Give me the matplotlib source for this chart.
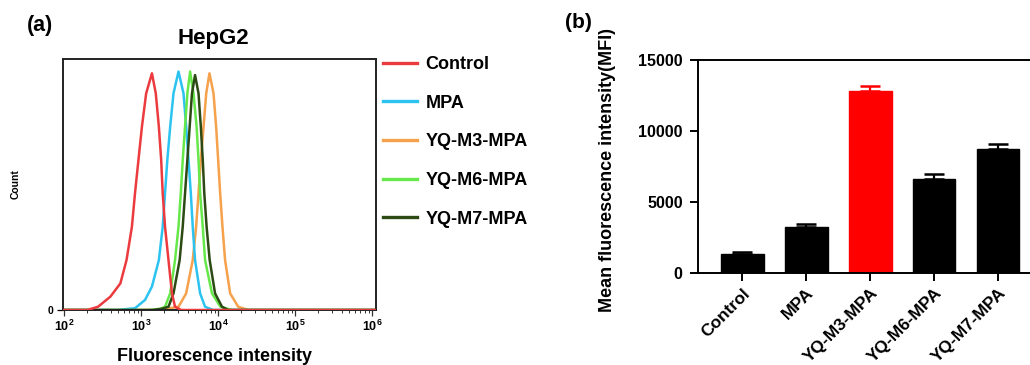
import numpy as np
import matplotlib
matplotlib.use("Agg")
import matplotlib.pyplot as plt
import matplotlib.transforms as mtransforms
from matplotlib.ticker import LogLocator, NullFormatter, FixedLocator

plt.rcParams['font.family'] = ['Liberation Sans', 'DejaVu Sans']
plt.rcParams['font.weight'] = 'bold'

# ---------------- data: flow cytometry histograms (log10 intensity, count %) -------------
ctrl_log = [2.00, 2.30, 2.44, 2.60, 2.73, 2.81, 2.88, 2.92, 2.965, 3.01, 3.065, 3.14,
            3.19, 3.23, 3.26, 3.28, 3.31, 3.355, 3.40, 3.44, 3.52, 6.10]
ctrl_cnt = [0, 0, 1.3, 5.3, 10.6, 19.9, 33.2, 46.5, 59.8, 73, 86.3, 94.3,
            86.3, 73, 59.8, 46.5, 33.2, 19.9, 6.6, 1.3, 0, 0]

mpa_log = [2.00, 2.70, 2.79, 2.92, 3.05, 3.14, 3.23, 3.28, 3.31, 3.34, 3.377, 3.42, 3.485,
           3.55, 3.585, 3.615, 3.645, 3.67, 3.70, 3.766, 3.83, 3.935, 6.10]
mpa_cnt = [0, 0, 0.3, 0.7, 4, 9.3, 19.9, 33.2, 46.5, 59.8, 73, 86.3, 95,
           86.3, 73, 59.8, 46.5, 33.2, 19.9, 6.6, 1.3, 0, 0]

m3_log = [2.00, 3.20, 3.334, 3.485, 3.584, 3.67, 3.714, 3.745, 3.775, 3.81, 3.845, 3.887,
          3.94, 3.974, 4.00, 4.026, 4.056, 4.09, 4.156, 4.26, 4.39, 6.10]
m3_cnt = [0, 0, 0.5, 1.3, 6.6, 19.9, 33.2, 46.5, 59.8, 73, 86.3, 94.3,
          86.3, 73, 59.8, 46.5, 33.2, 19.9, 6.6, 1.3, 0, 0]

m6_log = [2.00, 3.10, 3.25, 3.31, 3.377, 3.44, 3.485, 3.515, 3.54, 3.57, 3.60, 3.636,
          3.68, 3.72, 3.745, 3.766, 3.80, 3.83, 3.92, 4.03, 4.18, 6.10]
m6_cnt = [0, 0, 0.5, 1.3, 6.6, 19.9, 33.2, 46.5, 59.8, 73, 86.3, 95,
          86.3, 73, 59.8, 46.5, 33.2, 19.9, 6.6, 1.3, 0, 0]

m7_log = [2.00, 3.15, 3.27, 3.355, 3.42, 3.50, 3.54, 3.57, 3.60, 3.63, 3.66, 3.70,
          3.745, 3.775, 3.80, 3.82, 3.85, 3.89, 3.96, 4.05, 4.13, 6.10]
m7_cnt = [0, 0, 0.5, 1.3, 6.6, 19.9, 33.2, 46.5, 59.8, 73, 86.3, 93.6,
          86.3, 73, 59.8, 46.5, 33.2, 19.9, 6.6, 1.3, 0, 0]

hist_labels = ['Control', 'MPA', 'YQ-M3-MPA', 'YQ-M6-MPA', 'YQ-M7-MPA']
hist_colors = ['#ec3b3f', '#2cc3f0', '#f6a14c', '#66e84a', '#2c4a14']

# ---------------- data: MFI bar chart ----------------
groups = ['Control', 'MPA', 'YQ-M3-MPA', 'YQ-M6-MPA', 'YQ-M7-MPA']
mfi = [1320, 3245, 12810, 6610, 8750]
mfi_err = [160, 235, 350, 330, 300]
bar_colors = ['black', 'black', '#ff0000', 'black', 'black']

# ---------------- figure ----------------
fig = plt.figure(figsize=(10.3, 3.65), dpi=100)

# ---- panel (a) ----
ax1 = fig.add_axes([63/1030, 1-310/365, 313/1030, 251/365])
series = [(ctrl_log, ctrl_cnt), (mpa_log, mpa_cnt), (m3_log, m3_cnt),
          (m6_log, m6_cnt), (m7_log, m7_cnt)]
order = [2, 1, 3, 4, 0]
lines = {}
for i in order:
    lx, cy = series[i]
    ln, = ax1.plot(10 ** np.array(lx), cy, color=hist_colors[i], lw=1.8,
                   label=hist_labels[i], zorder=2 + (i == 0))
    lines[i] = ln
ax1.set_xscale('log')
ax1.set_xlim(10 ** 1.985, 10 ** 6.05)
ax1.set_ylim(0, 100)
ax1.xaxis.set_major_locator(FixedLocator([1e2, 1e3, 1e4, 1e5, 1e6]))
ax1.xaxis.set_minor_locator(LogLocator(base=10, subs=np.arange(2, 10)))
ax1.xaxis.set_minor_formatter(NullFormatter())
ax1.set_xticklabels([r'$\mathregular{10^{2}}$', r'$\mathregular{10^{3}}$',
                     r'$\mathregular{10^{4}}$', r'$\mathregular{10^{5}}$',
                     r'$\mathregular{10^{6}}$'], fontsize=9)
ax1.set_yticks([0])
ax1.set_yticklabels(['0'], fontsize=7.5)
ax1.tick_params(axis='x', which='major', direction='out', length=4, width=0.9, pad=2,
                colors='#333333', labelcolor='black')
ax1.tick_params(axis='x', which='minor', direction='out', length=2.5, width=0.7, colors='#333333')
ax1.tick_params(axis='y', direction='out', length=4, width=0.9, pad=3)
for s in ax1.spines.values():
    s.set_linewidth(1.4)
    s.set_color('#222222')
ax1.set_title('HepG2', fontsize=16, fontweight='bold', pad=11, x=0.481)
ax1.set_xlabel('Fluorescence intensity', fontsize=13, fontweight='bold')
ax1.xaxis.set_label_coords(0.484, -0.15)
ax1.xaxis.label.set_va('top')
ax1.set_ylabel('Count', fontsize=7.5, fontweight='bold')
ax1.yaxis.set_label_coords(-0.135, 0.5)

leg = fig.legend([lines[i] for i in range(5)], hist_labels, loc='upper left',
                 bbox_to_anchor=(383/1030, 1-56/365), frameon=False,
                 fontsize=13, handlelength=1.9, handletextpad=0.45,
                 labelspacing=1.2, borderaxespad=0, borderpad=0)
for t in leg.get_texts():
    t.set_fontweight('bold')
for h in leg.legend_handles:
    h.set_linewidth(2.4)

fig.text(27/1030, 1-25/365, '(a)', fontsize=15.5, fontweight='bold', va='center', ha='left')

# ---- panel (b) ----
ax2 = fig.add_axes([698/1030, 1-273/365, 332/1030, 213/365])
xpos = np.arange(len(groups))
ax2.bar(xpos, mfi, width=0.67, color=bar_colors, edgecolor=bar_colors, zorder=2)
for x, v, e, c in zip(xpos, mfi, mfi_err, bar_colors):
    ax2.errorbar(x, v, yerr=[[0], [e]], fmt='none', ecolor=c, elinewidth=1.6,
                 capsize=7.5, capthick=1.8, zorder=3)
ax2.set_xlim(-0.69, 4.5)
ax2.set_ylim(0, 15000)
ax2.set_yticks([0, 5000, 10000, 15000])
ax2.set_yticklabels(['0', '5000', '10000', '15000'], fontsize=11.5, fontweight='bold')
ax2.set_xticks(xpos)
ax2.set_xticklabels(groups, rotation=45, ha='right', rotation_mode='anchor',
                    fontsize=12.5, fontweight='bold')
offset = mtransforms.ScaledTranslation(5/100, -2/100, fig.dpi_scale_trans)
for lab in ax2.get_xticklabels():
    lab.set_transform(lab.get_transform() + offset)
ax2.tick_params(axis='y', direction='out', length=6, width=1.4, pad=5)
ax2.tick_params(axis='x', direction='out', length=6, width=1.4, pad=3)
ax2.spines['right'].set_visible(False)
for k in ['left', 'top', 'bottom']:
    ax2.spines[k].set_linewidth(1.4)
ax2.set_ylabel('Mean fluorescence intensity(MFI)', fontsize=13, fontweight='bold')
ax2.yaxis.set_label_coords(-0.247, 0.484)

fig.text(565/1030, 1-22/365, '(b)', fontsize=15, fontweight='bold', va='center', ha='left')

fig.savefig('out.png', dpi=100)
